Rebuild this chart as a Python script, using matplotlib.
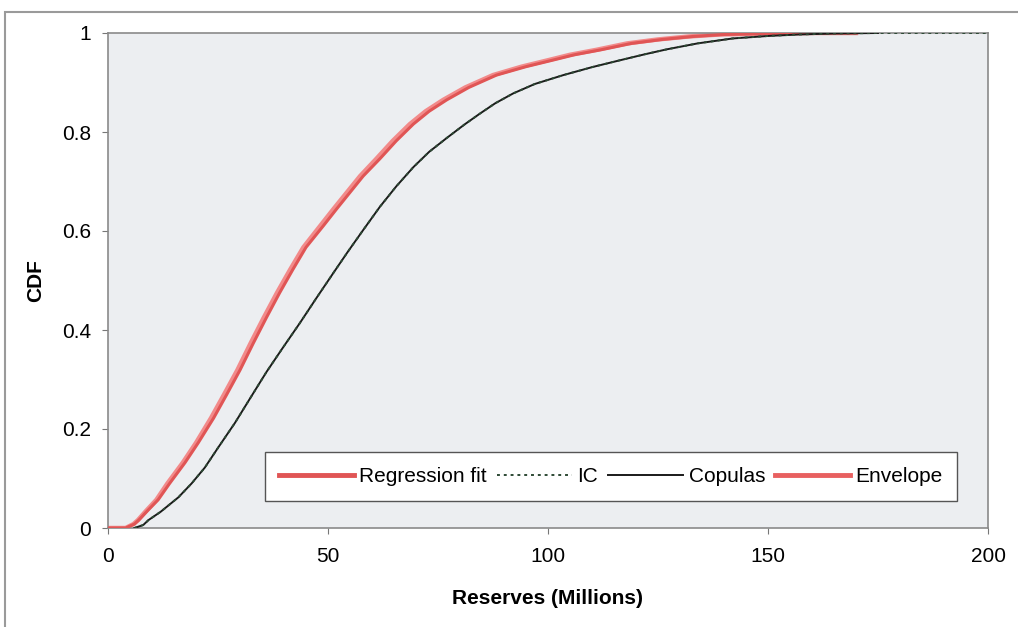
import matplotlib
matplotlib.use("Agg")
import matplotlib.pyplot as plt
from matplotlib.patches import Rectangle
from matplotlib.lines import Line2D

plt.rcParams['font.family'] = ['Liberation Sans', 'DejaVu Sans']

# Regression fit (red)
reg_x = [0, 4, 6, 7, 9, 11.4, 14, 17.5, 20.5, 24, 27, 30, 33, 36, 39, 42, 45, 48.9, 52, 55, 58,
         61.8, 65.5, 69.4, 73, 77, 82, 88.3, 95, 101, 106, 112, 119, 126, 133, 140, 150, 160, 170]
reg_y = [0, 0, 0.008, 0.016, 0.035, 0.057, 0.09, 0.132, 0.172, 0.222, 0.27, 0.319, 0.373, 0.425,
         0.475, 0.522, 0.567, 0.61, 0.645, 0.678, 0.711, 0.746, 0.782, 0.816, 0.842, 0.865, 0.89,
         0.915, 0.932, 0.945, 0.956, 0.966, 0.979, 0.987, 0.993, 0.997, 0.999, 1.0, 1.0]

# Envelope (pink), hugging the regression fit just to its left
env_x = [0, 4, 5.8, 6.8, 8.7, 11, 13.5, 17, 20, 23.4, 26.4, 29.4, 32.4, 35.4, 38.4, 41.4, 44.4,
         48.2, 51.3, 54.3, 57.3, 61, 64.7, 68.6, 72.2, 76.2, 81.2, 87.5, 94, 100, 105, 111, 118,
         125, 132, 139, 149, 160, 170]
env_y = reg_y

# IC (dotted) and Copulas (solid black)
ic_x = [6, 8, 9.2, 12, 16, 19, 22, 25, 28.9, 32.3, 36, 39.8, 43.6, 47.4, 51.2, 54.5, 58, 61.8,
        65.5, 69.4, 73, 77, 81, 84.5, 88, 92.1, 97, 103.5, 110, 116.4, 122, 127, 134, 142, 150,
        157, 165, 175, 200]
ic_y = [0, 0.006, 0.016, 0.033, 0.062, 0.09, 0.122, 0.162, 0.213, 0.262, 0.315, 0.365, 0.414,
        0.465, 0.515, 0.558, 0.602, 0.649, 0.69, 0.729, 0.76, 0.788, 0.815, 0.837, 0.858, 0.878,
        0.897, 0.915, 0.931, 0.945, 0.957, 0.967, 0.979, 0.989, 0.994, 0.997, 0.999, 1.0, 1.0]
cop_x = ic_x[:-1]
cop_y = ic_y[:-1]

x_ticks = [0, 50, 100, 150, 200]
y_ticks = [0, 0.2, 0.4, 0.6, 0.8, 1]
y_ticklabels = ['0', '0.2', '0.4', '0.6', '0.8', '1']

W, H = 1018, 627
fig = plt.figure(figsize=(W / 100, H / 100), dpi=100)
fig.patch.set_facecolor('white')
# outer frame of the chart area
fig.patches.append(Rectangle((5 / W, -0.1), 1.2, (H - 12) / H + 0.1, transform=fig.transFigure,
                             fill=False, edgecolor='#9a9a9a', linewidth=1.5))

ax = fig.add_axes([108 / W, 1 - 528 / H, 880 / W, 495 / H])
ax.set_facecolor('#eceef1')

ax.plot(env_x, env_y, color='#f28a8a', lw=3.2, zorder=2)
ax.plot(reg_x, reg_y, color='#e05555', lw=2.2, zorder=3)
ax.plot(cop_x, cop_y, color='#1a1a1a', lw=1.4, zorder=4)
ax.plot(ic_x, ic_y, color='#2e4a35', lw=1.4, ls=(0, (1.5, 2)), zorder=5)

ax.set_xlim(0, 200)
ax.set_ylim(0, 1)
ax.set_xticks(x_ticks)
ax.set_yticks(y_ticks)
ax.set_yticklabels(y_ticklabels)
ax.tick_params(labelsize=15, length=4, color='#777777')
ax.tick_params(axis='x', pad=10)
ax.tick_params(axis='y', pad=8)
for s in ax.spines.values():
    s.set_color('#8a8a8a')
    s.set_linewidth(1.2)

ax.set_xlabel('Reserves (Millions)', fontsize=15, fontweight='bold', labelpad=16)
ax.set_ylabel('CDF', fontsize=15, fontweight='bold', labelpad=12)

handles = [Line2D([], [], color='#e05555', lw=3.5),
           Line2D([], [], color='#2e4a35', lw=1.4, ls=(0, (1.5, 2))),
           Line2D([], [], color='#1a1a1a', lw=1.4),
           Line2D([], [], color='#e86060', lw=3.5)]
labels = ['Regression fit', 'IC', 'Copulas', 'Envelope']
leg = ax.legend(handles, labels, ncol=4, loc='center', bbox_to_anchor=(0.178, 0.04, 0.787, 0.128),
                mode='expand', fontsize=15, handlelength=3.6, handletextpad=0.25, columnspacing=0.4,
                fancybox=False, frameon=True, borderpad=0.7, borderaxespad=0)
leg.get_frame().set_edgecolor('#555555')
leg.get_frame().set_linewidth(1.0)
leg.get_frame().set_facecolor('white')
leg.get_frame().set_alpha(1)

fig.savefig('out.png', dpi=100)
